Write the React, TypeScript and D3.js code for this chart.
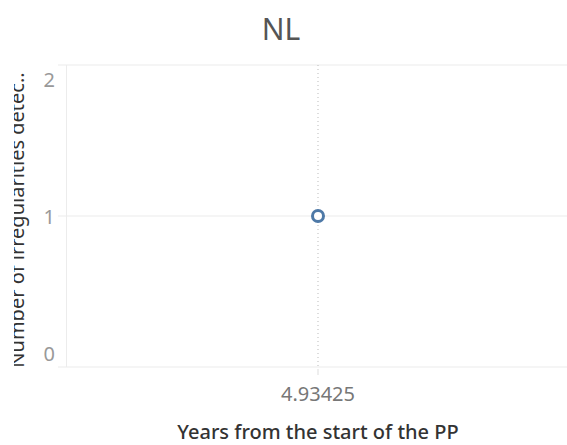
import { useEffect, useRef } from "react";
import * as d3 from "d3";

const country = "NL";
const xValues = ["4.93425"];
const yValues = [1];
const yTicks = [0, 1, 2];
const xTitle = "Years from the start of the PP";
const yTitle = "Number of irregularities detec..";

const W = 567;
const H = 445;
const FONT = "'Noto Sans', 'Open Sans', sans-serif";

const App = () => {
  const svgRef = useRef<SVGSVGElement | null>(null);

  useEffect(() => {
    const svg = d3.select(svgRef.current);
    svg.selectAll("*").remove();

    const left = 66;
    const top = 65;
    const bottom = 367;

    const x = d3.scalePoint().domain(xValues).range([left, W]).padding(0.5);
    const y = d3.scaleLinear().domain([0, 2]).range([bottom, top]);

    // title
    svg
      .append("text")
      .attr("x", 281)
      .attr("y", 40)
      .attr("text-anchor", "middle")
      .attr("font-family", FONT)
      .attr("font-size", 30)
      .attr("fill", "#555")
      .text(country);

    // horizontal gridlines
    svg
      .append("g")
      .selectAll("line")
      .data(yTicks)
      .join("line")
      .attr("x1", 58)
      .attr("x2", W)
      .attr("y1", (d) => y(d))
      .attr("y2", (d) => y(d))
      .attr("stroke", "#ececec")
      .attr("stroke-width", 1.2);

    // y axis line
    svg
      .append("line")
      .attr("x1", left + 0.5)
      .attr("x2", left + 0.5)
      .attr("y1", top)
      .attr("y2", bottom)
      .attr("stroke", "#ececec");

    // y tick labels, edge ones nudged inside like Tableau
    svg
      .append("g")
      .selectAll("text")
      .data(yTicks)
      .join("text")
      .attr("x", 55)
      .attr("y", (d) => y(d) + (d === 2 ? 15 : d === 0 ? -13 : 1))
      .attr("dy", "0.35em")
      .attr("text-anchor", "end")
      .attr("font-family", FONT)
      .attr("font-size", 20)
      .attr("fill", "#999")
      .text((d) => String(d));

    // y title, clipped on the left
    svg
      .append("clipPath")
      .attr("id", "yclip")
      .append("rect")
      .attr("x", 14)
      .attr("y", 62)
      .attr("width", 20)
      .attr("height", 308);
    svg
      .append("g")
      .attr("clip-path", "url(#yclip)")
      .append("text")
      .attr("transform", `translate(24,${(top + bottom) / 2 + 4}) rotate(-90)`)
      .attr("text-anchor", "middle")
      .attr("font-family", FONT)
      .attr("font-size", 20)
      .attr("fill", "#333")
      .text(yTitle);

    // dotted reference line
    svg
      .append("g")
      .selectAll("line")
      .data(xValues)
      .join("line")
      .attr("x1", (d) => x(d)! + 1.5)
      .attr("x2", (d) => x(d)! + 1.5)
      .attr("y1", top)
      .attr("y2", bottom)
      .attr("stroke", "#bbb")
      .attr("stroke-dasharray", "1,3");

    // x ticks + labels
    const xt = svg.append("g").selectAll("g").data(xValues).join("g");
    xt.append("line")
      .attr("x1", (d) => x(d)! + 1.5)
      .attr("x2", (d) => x(d)! + 1.5)
      .attr("y1", bottom + 2)
      .attr("y2", bottom + 8)
      .attr("stroke", "#ddd");
    xt.append("text")
      .attr("x", (d) => x(d)! + 1.5)
      .attr("y", 394)
      .attr("dy", "0.35em")
      .attr("text-anchor", "middle")
      .attr("font-family", FONT)
      .attr("font-size", 20)
      .attr("fill", "#777")
      .text((d) => d);

    svg
      .append("text")
      .attr("x", 318)
      .attr("y", 432)
      .attr("dy", "0.35em")
      .attr("text-anchor", "middle")
      .attr("font-family", FONT)
      .attr("font-size", 20)
      .attr("font-weight", 500)
      .attr("fill", "#333")
      .text(xTitle);

    // points
    svg
      .append("g")
      .selectAll("circle")
      .data(xValues.map((k, i) => ({ k, v: yValues[i] })))
      .join("circle")
      .attr("cx", (d) => x(d.k)! + 1.5)
      .attr("cy", (d) => y(d.v))
      .attr("r", 5.5)
      .attr("fill", "white")
      .attr("stroke", "#4e79a7")
      .attr("stroke-width", 3);
  }, []);

  return (
    <svg
      ref={svgRef}
      width={W}
      height={H}
      style={{ position: "absolute", left: 0, top: 0, background: "white" }}
    />
  );
};

export default App;
